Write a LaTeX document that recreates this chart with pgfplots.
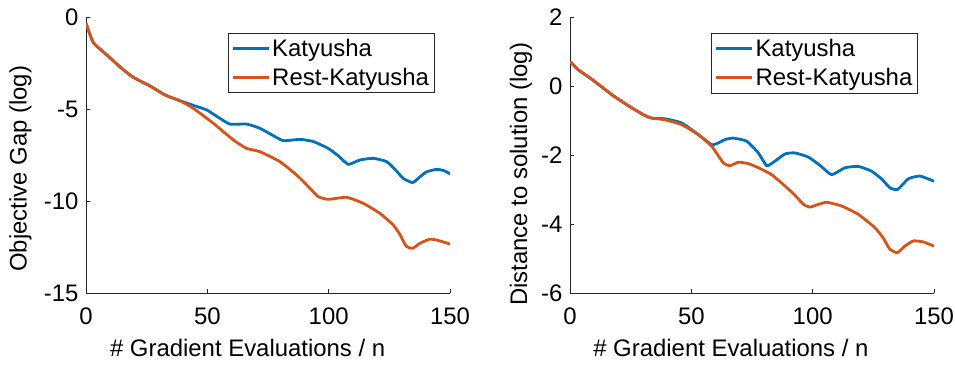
\documentclass[border=0pt]{standalone}
\usepackage{fontspec}
\setmainfont{Liberation Sans}
\usepackage{pgfplots}
\pgfplotsset{compat=1.18}
\definecolor{mblue}{rgb}{0,0.447,0.741}
\definecolor{morange}{rgb}{0.85,0.325,0.098}
\definecolor{axgray}{rgb}{0.15,0.15,0.15}
\pgfplotsset{
  mystyle/.style={
    scale only axis, width=364bp, height=276bp,
    axis x line*=bottom, axis y line*=left,
    axis line style={axgray, line width=0.6bp},
    tick style={axgray, line width=0.6bp},
    tick align=inside, major tick length=4bp,
    xmin=0, xmax=150, xtick={0,50,100,150},
    ticklabel style={font=\fontsize{24}{28}\selectfont, text=black},
    label style={font=\fontsize{24}{28}\selectfont},
    /pgf/number format/assume math mode=true,
    xticklabel style={yshift=-11bp},
    yticklabel style={xshift=-4bp},
    legend style={font=\fontsize{24}{28}\selectfont, draw=axgray, line width=0.6bp,
      inner xsep=3bp, inner ysep=4bp, row sep=6bp},
    legend cell align=left,
    legend image code/.code={\draw[#1, line width=3bp] (0bp,0bp) -- (36bp,0bp);},
    every axis plot/.append style={line width=2.8bp, line join=round, smooth, tension=0.3},
  }
}
\begin{document}
\begin{tikzpicture}
\path[use as bounding box] (0,0) rectangle (955bp,365bp);
\begin{axis}[mystyle, at={(86bp,72bp)}, anchor=south west,
  ymin=-15, ymax=0, ytick={-15,-10,-5,0},
  yticklabels={-15,-10,-5,0},
  xlabel={\# Gradient Evaluations / n}, ylabel={Objective Gap (log)},
  xlabel style={at={(axis description cs:0.444,-0.199)}, anchor=center},
  ylabel style={at={(axis description cs:-0.18,0.45)}, anchor=center},
  legend style={at={(axis description cs:0.957,0.943)}, anchor=north east},
]
\addplot[mblue] coordinates {
(0,-0.34) (3,-1.39) (7.8,-1.97) (14.7,-2.79) (19.5,-3.28) (26.4,-3.75) (32.6,-4.24) (38.7,-4.55)
(44.2,-4.80) (49.7,-5.05) (54.5,-5.45) (59.3,-5.82) (66.2,-5.82) (71.7,-6.05) (76.5,-6.40) (81.3,-6.72)
(88.2,-6.65) (93.7,-6.77) (99.8,-7.14) (104,-7.55) (108.1,-8.01) (112.9,-7.77) (118.4,-7.68) (123.9,-7.86)
(127.5,-8.30) (130.7,-8.77) (134.6,-9.0) (137.5,-8.70) (140.4,-8.41) (144.5,-8.28) (147.5,-8.35) (150,-8.53)
};
\addplot[morange] coordinates {
(0,-0.34) (3,-1.39) (7.8,-1.97) (14.7,-2.79) (19.5,-3.28) (26.4,-3.75) (32.6,-4.24) (38.7,-4.55)
(44.2,-4.96) (52.5,-5.78) (60.7,-6.68) (66.2,-7.14) (71.7,-7.32) (79.9,-7.86) (86.8,-8.59) (91.5,-9.20)
(95.7,-9.76) (99.8,-9.91) (107.4,-9.80) (114.3,-10.13) (121.1,-10.67) (126.6,-11.30) (129.5,-11.85)
(131.9,-12.45) (134.6,-12.57) (137.6,-12.30) (141.5,-12.08) (144.5,-12.12) (150,-12.34)
};
\legend{Katyusha,Rest-Katyusha}
\end{axis}
\begin{axis}[mystyle, at={(570bp,72bp)}, anchor=south west,
  ymin=-6, ymax=2, ytick={-6,-4,-2,0,2},
  yticklabels={-6,-4,-2,0,2},
  xlabel={\# Gradient Evaluations / n}, ylabel={Distance to solution (log)},
  xlabel style={at={(axis description cs:0.442,-0.199)}, anchor=center},
  ylabel style={at={(axis description cs:-0.135,0.43)}, anchor=center},
  legend style={at={(axis description cs:0.955,0.942)}, anchor=north east},
]
\addplot[mblue] coordinates {
(0,0.71) (3.4,0.47) (8.9,0.20) (17.2,-0.25) (24.0,-0.57) (30.2,-0.83) (33.6,-0.93) (39.1,-0.95)
(46.0,-1.07) (52.9,-1.41) (58.4,-1.70) (61.1,-1.65) (64,-1.55) (67.3,-1.51) (72.8,-1.60) (77.6,-1.94)
(81.0,-2.31) (83.8,-2.21) (88.6,-1.97) (92.7,-1.94) (98.2,-2.06) (103,-2.30) (107.8,-2.57) (113.3,-2.37)
(118.8,-2.33) (124.3,-2.47) (128.5,-2.70) (131.8,-2.95) (135,-3.0) (139.4,-2.69) (144.2,-2.61) (150,-2.76)
};
\addplot[morange] coordinates {
(0,0.71) (3.4,0.47) (8.9,0.20) (17.2,-0.25) (24.0,-0.57) (30.2,-0.83) (33.6,-0.93) (39.1,-0.98)
(46.0,-1.12) (52.9,-1.41) (58.4,-1.75) (63.2,-2.23) (65.9,-2.31) (69.4,-2.21) (73.5,-2.25) (78,-2.38)
(83.1,-2.57) (88.6,-2.90) (92.5,-3.15) (96.2,-3.43) (98.9,-3.51) (102,-3.44) (105.8,-3.37) (112,-3.48)
(118.8,-3.72) (125.7,-4.11) (129,-4.40) (131.8,-4.73) (134.9,-4.83) (138,-4.64) (141.5,-4.49) (145.6,-4.52) (150,-4.64)
};
\legend{Katyusha,Rest-Katyusha}
\end{axis}
\end{tikzpicture}
\end{document}
